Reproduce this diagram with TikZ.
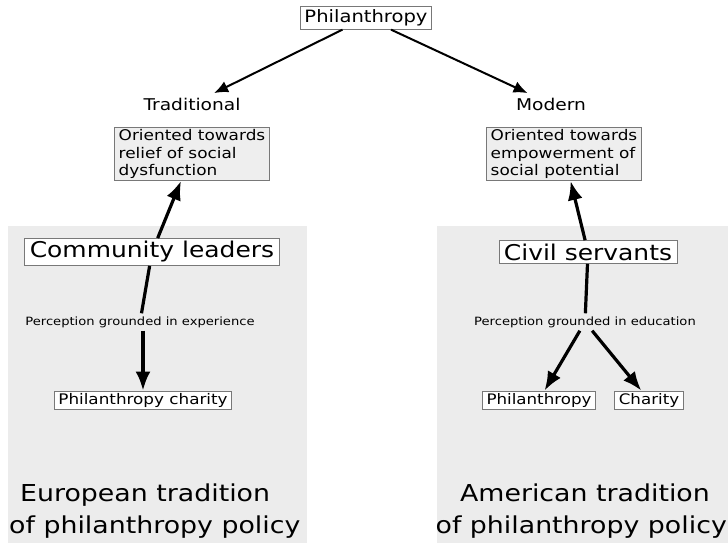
\documentclass[tikz,border=0pt]{standalone}
\usepackage{fontspec}
\setmainfont{DejaVu Sans}[FakeStretch=1.15]
\usetikzlibrary{arrows.meta,positioning}
\definecolor{panelgrey}{RGB}{236,236,236}
\definecolor{boxgrey}{RGB}{238,238,238}
\definecolor{framegrey}{RGB}{120,120,120}
\tikzset{
	box/.style={draw=framegrey,fill=white,line width=0.8pt,inner xsep=4pt,inner ysep=3pt},
	greybox/.style={box,fill=boxgrey,align=left,inner ysep=2pt,font=\fontsize{14.7}{17.5}\selectfont},
	headtext/.style={inner sep=4pt,font=\fontsize{16.2}{19}\selectfont},
	labeltext/.style={inner sep=3pt,font=\fontsize{11.4}{13}\selectfont},
	bigtext/.style={inner sep=0pt,font=\fontsize{23.3}{28}\selectfont},
	diredge/.style={-{Latex[width=12pt,length=14pt]},line width=2pt,shorten >=1pt},
	thickedge/.style={line width=3.2pt},
	thickdiredge/.style={-{Latex[width=15pt,length=19pt]},line width=3.2pt}
}
\begin{document}
\begin{tikzpicture}[x=1pt,y=-1pt]
\useasboundingbox (0,0) rectangle (728,543);
%%%% panels
\fill[panelgrey] (8,226) rectangle (307,543);
\fill[panelgrey] (437,226) rectangle (728,543);

%%%% top
\node[box,font=\fontsize{17}{20}\selectfont] (top) at (366,18) {Philanthropy};
\node[headtext] (trad) at (192,104) {Traditional};
\node[headtext] (modern) at (551,104) {Modern};
\node[greybox] (relief) at (192,154) {Oriented towards\\relief of social\\dysfunction};
\node[greybox] (empower) at (564,154) {Oriented towards\\empowerment of\\social potential};
\draw (top) edge[diredge] (trad) (top) edge[diredge] (modern);

%%%% European side
\node[box,inner xsep=5pt,font=\fontsize{21.7}{25}\selectfont] (leaders) at (152,252) {Community leaders};
\node[labeltext] (exper) at (140,322) {Perception grounded in experience};
\node[box,inner ysep=2pt,font=\fontsize{14.6}{17}\selectfont] (charityL) at (143,400) {Philanthropy charity};
\node[bigtext,anchor=base west] (euro1) at (20,501) {European tradition};
\node[bigtext,anchor=base west] (euro2) at (9,533) {of philanthropy policy};
\draw (leaders) edge[thickdiredge] (relief);
\draw (leaders) edge[thickedge] (exper);
\draw[thickdiredge] (exper.south -| charityL.north) -- (charityL);

%%%% American side
\node[box,inner xsep=5pt,font=\fontsize{21.7}{25}\selectfont] (servants) at (588,252) {Civil servants};
\node[labeltext] (educ) at (585,322) {Perception grounded in education};
\node[box,inner ysep=2pt,font=\fontsize{14.5}{17}\selectfont] (philR) at (539,400) {Philanthropy};
\node[box,inner ysep=2pt,font=\fontsize{14.5}{17}\selectfont] (charR) at (649,400) {Charity};
\node[bigtext,anchor=base] (amer1) at (585,501) {American tradition};
\node[bigtext,anchor=base east] (amer2) at (727,533) {of philanthropy policy};
\draw (servants) edge[thickdiredge] (empower);
\draw (servants) edge[thickedge] (educ);
\draw (educ) edge[thickdiredge] (philR);
\draw (educ) edge[thickdiredge] (charR);
\end{tikzpicture}
\end{document}
